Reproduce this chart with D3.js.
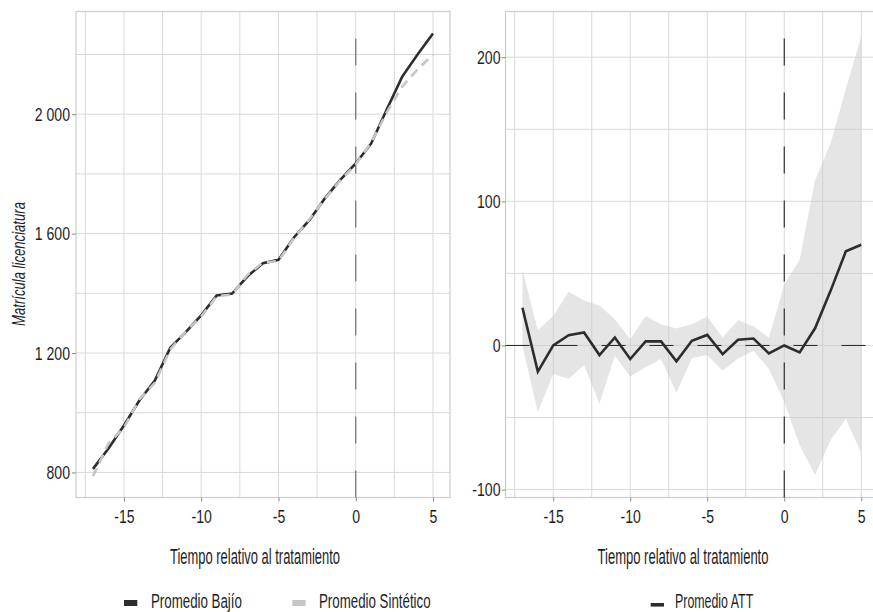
<!DOCTYPE html>
<html><head><meta charset="utf-8">
<script src="https://cdn.jsdelivr.net/npm/d3@7"></script>
<style>
body{margin:0;background:#fff;}
svg text{font-family:"Liberation Sans","Arimo",sans-serif;fill:#1e1e1e;}
</style></head><body>
<svg id="c" width="873" height="612"></svg>
<script>
// ---------- data ----------
const years = [-17,-16,-15,-14,-13,-12,-11,-10,-9,-8,-7,-6,-5,-4,-3,-2,-1,0,1,2,3,4,5];
const bajio = [812,880,957,1041,1108,1218,1270,1326,1393,1399,1457,1501,1512,1587,1645,1718,1780,1835,1902,2015,2125,2200,2270];
const sintetico = [787,897,950,1045,1100,1212,1272,1322,1390,1396,1462,1503,1508,1585,1648,1716,1778,1832,1905,2005,2092,2150,2200];
const att = [26.2,-18.2,0,7.1,9,-6.7,5.5,-9.4,2.8,2.8,-11,3.2,7.3,-6,3.9,4.8,-5.5,0,-4.8,11.9,37.7,65.3,69.9];
const attUpper = [52.6,10.8,20.4,37.2,31.2,27.8,18.1,4.3,20.4,14.7,11.7,14.7,20,5.5,17.4,13.1,5.5,42.3,59.5,114.7,140,178,214.7];
const attLower = [-0.3,-46.2,-19.8,-23.2,-13.6,-40.5,-7.2,-21.6,-15.2,-9.4,-32.9,-8.8,-6.7,-17.5,-9,-3.7,-16.3,-39.3,-69.2,-89.9,-65.8,-50.8,-75];
const xTicks = [-15,-10,-5,0,5];
const xGrid = [-17.5,-15,-12.5,-10,-7.5,-5,-2.5,0,2.5,5];
const yTicksL = [800,1200,1600,2000];
const yGridL = [800,1000,1200,1400,1600,1800,2000,2200];
const yTicksR = [-100,0,100,200];
const yGridR = [-100,-50,0,50,100,150,200];
const xTitle = "Tiempo relativo al tratamiento";
const yTitleL = "Matrícula licenciatura";
const legendL = ["Promedio Bajío","Promedio Sintético"];
const legendR = ["Promedio ATT"];

// ---------- style ----------
const C = {dark:"#2d2d2d", synth:"#c6c6c6", band:"#c8c8c8", grid:"#d9d9d9", border:"#cdcdcd", tick:"#8a8a8a"};
const loc = d3.formatLocale({decimal:".", thousands:" ", grouping:[3], currency:["",""], minus:"-"});
const fmt = loc.format(",");

const svg = d3.select("#c");
const yTop = 11.5, yBot = 497.5;

const xL = d3.scaleLinear().domain([-18.1, 6.1]).range([76, 450]);
const yL = d3.scaleLinear().domain([716, 2344]).range([yBot, yTop]);
const xR = d3.scaleLinear().domain([-18.1, 6.1]).range([505.5, 878.2]);
const yR = d3.scaleLinear().domain([-105.5, 231.7]).range([yBot, yTop]);

// place a text at (x,y), horizontally condensed to width w (rot = rotation)
function label(str, x, y, size, w, anchor, rot, italic){
  const t = svg.append("text").attr("font-size", size).attr("text-anchor", anchor)
    .attr("font-style", italic ? "italic" : "normal").text(str);
  const f = w / t.node().getComputedTextLength();
  t.attr("transform", `translate(${x},${y}) rotate(${rot||0}) scale(${f},1)`);
  return t;
}
function condense(sel, f){
  sel.each(function(){ const n = this.getComputedTextLength();
    d3.select(this).attr("textLength", n*f).attr("lengthAdjust","spacingAndGlyphs"); });
}

function panel(x, y, yGrid){
  const g = svg.append("g");
  g.selectAll(".gx").data(xGrid).join("line")
    .attr("x1", d=>x(d)).attr("x2", d=>x(d)).attr("y1", yTop).attr("y2", yBot)
    .attr("stroke", C.grid).attr("stroke-width", 1);
  g.selectAll(".gy").data(yGrid).join("line")
    .attr("x1", x.range()[0]).attr("x2", x.range()[1]).attr("y1", d=>y(d)).attr("y2", d=>y(d))
    .attr("stroke", C.grid).attr("stroke-width", 1);
  return g;
}
function border(x){
  svg.append("rect").attr("x", x.range()[0]).attr("y", yTop)
    .attr("width", x.range()[1]-x.range()[0]).attr("height", yBot-yTop)
    .attr("fill","none").attr("stroke", C.border).attr("stroke-width",1.2);
}
function axes(x, y, yTicks, yPad){
  const ax = svg.append("g").attr("transform",`translate(0,${yBot})`)
    .call(d3.axisBottom(x).tickValues(xTicks).tickSize(4).tickPadding(8).tickFormat(fmt));
  const ay = svg.append("g").attr("transform",`translate(${x.range()[0]},0)`)
    .call(d3.axisLeft(y).tickValues(yTicks).tickSize(4).tickPadding(yPad).tickFormat(fmt));
  [ax, ay].forEach(a=>{
    a.select(".domain").remove();
    a.selectAll(".tick line").attr("stroke", C.tick);
    a.selectAll(".tick text").attr("font-size", 19).attr("fill","#1e1e1e")
      .style("font-family",'"Liberation Sans","Arimo",sans-serif').call(condense, 0.74);
  });
}

// ---------- left panel ----------
panel(xL, yL, yGridL);
border(xL);
svg.append("line").attr("x1", xL(0)).attr("x2", xL(0)).attr("y1", yBot).attr("y2", yTop)
  .attr("stroke", "#7a7a7a").attr("stroke-width", 1.3).attr("stroke-dasharray", "27,27");
const lineL = d3.line().x((d,i)=>xL(years[i])).y(d=>yL(d));
svg.append("path").datum(bajio).attr("d", lineL).attr("fill","none")
  .attr("stroke", C.dark).attr("stroke-width", 2.6);
svg.append("path").datum(sintetico).attr("d", lineL).attr("fill","none")
  .attr("stroke", C.synth).attr("stroke-width", 2.6).attr("stroke-dasharray","9,6");
axes(xL, yL, yTicksL, 2);

// ---------- right panel ----------
panel(xR, yR, yGridR);
const area = d3.area().x((d,i)=>xR(years[i])).y0((d,i)=>yR(attLower[i])).y1(d=>yR(d));
svg.append("path").datum(attUpper).attr("d", area).attr("fill", C.band).attr("fill-opacity", 0.48);
border(xR);
svg.append("line").attr("x1", xR.range()[0]).attr("x2", xR.range()[1]).attr("y1", yR(0)).attr("y2", yR(0))
  .attr("stroke", "#222").attr("stroke-width", 1).attr("stroke-dasharray", "24,24");
svg.append("line").attr("x1", xR(0)).attr("x2", xR(0)).attr("y1", yBot).attr("y2", yTop)
  .attr("stroke", "#222").attr("stroke-width", 1.1).attr("stroke-dasharray", "27,27");
const lineR = d3.line().x((d,i)=>xR(years[i])).y(d=>yR(d));
svg.append("path").datum(att).attr("d", lineR).attr("fill","none")
  .attr("stroke", C.dark).attr("stroke-width", 2.6).attr("stroke-linejoin","miter");
axes(xR, yR, yTicksR, 1);

// ---------- titles ----------
label(xTitle, 255, 564, 21.5, 170, "middle");
label(xTitle, 683, 564, 21.5, 171, "middle");
label(yTitleL, 25, 264, 19, 124, "middle", -90, true);

// ---------- legends ----------
const keyX = [124, 292.3], txtX = [151, 319], txtW = [91, 111.7], keyC = [C.dark, C.synth];
svg.append("g").selectAll("rect").data(legendL).join("rect")
  .attr("x",(d,i)=>keyX[i]).attr("y",600).attr("width",13.3).attr("height",6).attr("fill",(d,i)=>keyC[i]);
legendL.forEach((d,i)=>label(d, txtX[i], 608, 20.5, txtW[i], "start"));
svg.append("g").selectAll("rect").data(legendR).join("rect")
  .attr("x",650.7).attr("y",603).attr("width",13.3).attr("height",3.6).attr("fill",C.dark);
legendR.forEach(d=>label(d, 675, 608, 20.5, 78.3, "start"));
</script></body></html>
